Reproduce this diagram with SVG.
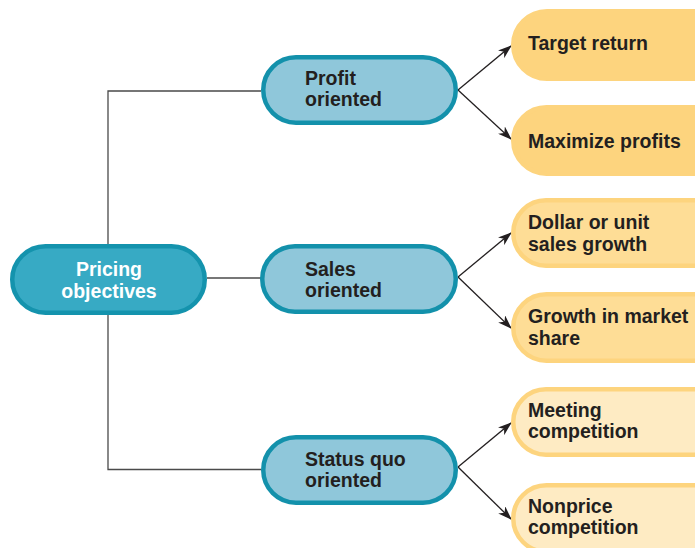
<svg xmlns="http://www.w3.org/2000/svg" width="695" height="548" viewBox="0 0 695 548">
<defs>
<style>
.t{font-family:"Liberation Sans",Arial,sans-serif;font-weight:bold;font-size:19.5px;fill:#231f20}
.tw{font-family:"Liberation Sans",Arial,sans-serif;font-weight:bold;font-size:19.5px;fill:#ffffff}
.root{fill:#37aac4;stroke:#1493ad;stroke-width:4.5}
.mid{fill:#8fc7da;stroke:#1391ab;stroke-width:4.5}
.o1{fill:#fdd47e;stroke:#fdd47e;stroke-width:4.5}
.o2{fill:#fedd96;stroke:#fdd47e;stroke-width:4.5}
.o3{fill:#feebc3;stroke:#fdd47e;stroke-width:4.5}
.ln{fill:none;stroke:#4a4a4a;stroke-width:1.3}
.ar{fill:none;stroke:#231f20;stroke-width:1.3;marker-end:url(#ah)}
</style>
<marker id="ah" viewBox="0 0 14 10" refX="13" refY="5" markerWidth="14" markerHeight="10" markerUnits="userSpaceOnUse" orient="auto">
<path d="M0,0 L14,5 L0,10 L4,5 Z" fill="#231f20"/>
</marker>
</defs>
<g id="connectors">
<path class="ln" d="M261,91 H108 V244"/>
<path class="ln" d="M108,315 V469.5 H261"/>
<path class="ln" d="M207,278 H261"/>
<path class="ar" d="M458,90 L511,46"/>
<path class="ar" d="M458,90 L511,139"/>
<path class="ar" d="M458,277 L511,233"/>
<path class="ar" d="M458,277 L511,328"/>
<path class="ar" d="M458,467 L511,423"/>
<path class="ar" d="M458,467 L511,519"/>
</g>
<g id="pricing-objectives">
<rect class="root" x="12.25" y="246.25" width="192.5" height="66.5" rx="33.25"/>
<text class="tw" x="109" y="276" text-anchor="middle">Pricing</text>
<text class="tw" x="109" y="298" text-anchor="middle">objectives</text>
</g>
<g id="profit-oriented">
<rect class="mid" x="263.25" y="57.25" width="192.5" height="65.5" rx="32.75"/>
<text class="t" x="305" y="85">Profit</text>
<text class="t" x="305" y="106">oriented</text>
</g>
<g id="sales-oriented">
<rect class="mid" x="262.25" y="246.25" width="193.5" height="65.5" rx="32.75"/>
<text class="t" x="305" y="276">Sales</text>
<text class="t" x="305" y="297">oriented</text>
</g>
<g id="status-quo-oriented">
<rect class="mid" x="263.25" y="437.25" width="192.5" height="65.5" rx="32.75"/>
<text class="t" x="305" y="466">Status quo</text>
<text class="t" x="305" y="487">oriented</text>
</g>
<g id="target-return">
<rect class="o1" x="513.25" y="11.25" width="220" height="67.5" rx="33.75"/>
<text class="t" x="528" y="50">Target return</text>
</g>
<g id="maximize-profits">
<rect class="o1" x="513.25" y="107.25" width="220" height="66.5" rx="33.25"/>
<text class="t" x="528" y="148">Maximize profits</text>
</g>
<g id="dollar-or-unit-sales-growth">
<rect class="o2" x="513.25" y="200.25" width="220" height="65.5" rx="32.75"/>
<text class="t" x="528" y="229">Dollar or unit</text>
<text class="t" x="528" y="251">sales growth</text>
</g>
<g id="growth-in-market-share">
<rect class="o2" x="513.25" y="294.25" width="220" height="66.5" rx="33.25"/>
<text class="t" x="528" y="323">Growth in market</text>
<text class="t" x="528" y="345">share</text>
</g>
<g id="meeting-competition">
<rect class="o3" x="513.25" y="389.25" width="220" height="65.5" rx="32.75"/>
<text class="t" x="528" y="417">Meeting</text>
<text class="t" x="528" y="438">competition</text>
</g>
<g id="nonprice-competition">
<rect class="o3" x="513.25" y="485.25" width="220" height="66.5" rx="33.25"/>
<text class="t" x="528" y="513">Nonprice</text>
<text class="t" x="528" y="534">competition</text>
</g>
</svg>
